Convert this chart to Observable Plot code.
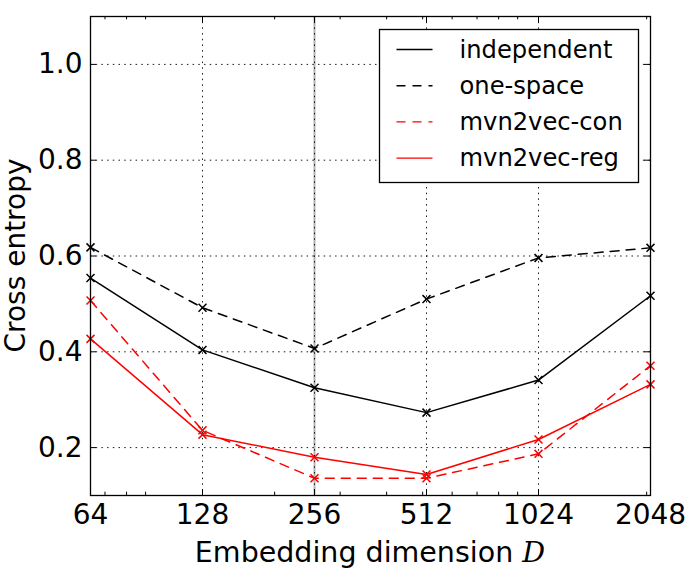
<!DOCTYPE html>
<html>
<head>
<meta charset="utf-8">
<script src="https://cdn.jsdelivr.net/npm/d3@7"></script>
<script src="https://cdn.jsdelivr.net/npm/@observablehq/plot@0.6"></script>
<style>
  body { margin: 0; background: #fff; }
  #chart { position: relative; width: 686px; height: 570px; }
</style>
</head>
<body>
<div id="chart"></div>
<script>
// ---- data ----
const dims = [64, 128, 256, 512, 1024, 2048];
const independent = [0.554, 0.404, 0.325, 0.273, 0.341, 0.517];
const oneSpace    = [0.618, 0.492, 0.407, 0.510, 0.596, 0.617];
const mvn2vecCon  = [0.507, 0.236, 0.136, 0.136, 0.187, 0.371];
const mvn2vecReg  = [0.427, 0.227, 0.180, 0.144, 0.217, 0.332];
const seriesNames = ["independent", "one-space", "mvn2vec-con", "mvn2vec-reg"];
const yTicks = [0.2, 0.4, 0.6, 0.8, 1.0];
const xGridTicks = [128, 256, 512, 1024];
const xMinorTicks = [70, 80, 90, 200, 300, 400, 500, 600, 700, 800, 900, 2000];
const highlightDim = [256];

// ---- layout ----
const W = 686, H = 570;
const mL = 90, mR = 36, mT = 16, mB = 75;
const innerW = W - mL - mR, innerH = H - mT - mB;
const MAJ = 6, MIN = 3.3;
const dash = "9,7";

const toRows = (vals) => dims.map((d, i) => ({dim: d, v: vals[i]}));
const series = [
  {name: seriesNames[0], rows: toRows(independent), color: "#000000", dash: null},
  {name: seriesNames[1], rows: toRows(oneSpace),    color: "#000000", dash: dash},
  {name: seriesNames[2], rows: toRows(mvn2vecCon),  color: "#ff0000", dash: dash},
  {name: seriesNames[3], rows: toRows(mvn2vecReg),  color: "#ff0000", dash: null}
];

const marks = [
  Plot.ruleX(highlightDim, {stroke: "#b4b4b4", strokeWidth: 2}),
  Plot.gridX({ticks: xGridTicks, stroke: "#000", strokeOpacity: 1, strokeWidth: 0.9, strokeDasharray: "1.5,4.2"}),
  Plot.gridY({ticks: yTicks, stroke: "#000", strokeOpacity: 1, strokeWidth: 0.9, strokeDasharray: "1.5,4.2"})
];
for (const s of series) {
  marks.push(Plot.line(s.rows, {x: "dim", y: "v", stroke: s.color, strokeWidth: 1.5, strokeDasharray: s.dash}));
  marks.push(Plot.dot(s.rows, {x: "dim", y: "v", symbol: "times", r: 3.7, stroke: s.color, strokeWidth: 1.5}));
}
// inward ticks
marks.push(
  Plot.tickX(dims, {x: d => d, insetTop: innerH - MAJ, stroke: "#000", strokeWidth: 1}),
  Plot.tickX(dims, {x: d => d, insetBottom: innerH - MAJ, stroke: "#000", strokeWidth: 1}),
  Plot.tickX(xMinorTicks, {x: d => d, insetTop: innerH - MIN, stroke: "#000", strokeWidth: 1}),
  Plot.tickX(xMinorTicks, {x: d => d, insetBottom: innerH - MIN, stroke: "#000", strokeWidth: 1}),
  Plot.tickY(yTicks, {y: d => d, insetRight: innerW - MAJ, stroke: "#000", strokeWidth: 1}),
  Plot.tickY(yTicks, {y: d => d, insetLeft: innerW - MAJ, stroke: "#000", strokeWidth: 1}),
  Plot.axisX({ticks: dims, tickFormat: d => String(d), tickSize: 0, tickPadding: 9, fontSize: 28, label: null}),
  Plot.axisY({ticks: yTicks, tickFormat: d3.format(".1f"), tickSize: 0, tickPadding: 8, fontSize: 28, label: null}),
  Plot.frame({stroke: "#000", strokeWidth: 1.3})
);

const plot = Plot.plot({
  width: W, height: H,
  marginLeft: mL, marginRight: mR, marginTop: mT, marginBottom: mB,
  style: {fontFamily: "DejaVu Sans", background: "#fff", color: "#000", overflow: "visible"},
  x: {type: "log", base: 2, domain: [64, 2048]},
  y: {domain: [0.1, 1.1]},
  marks
});
document.getElementById("chart").appendChild(plot);

// ---- axis labels ----
const svg = d3.select(plot);
const xl = svg.append("text")
  .attr("x", mL + innerW / 2).attr("y", 562)
  .attr("text-anchor", "middle")
  .attr("font-size", 28.5).attr("font-family", "DejaVu Sans").attr("fill", "#000");
xl.append("tspan").text("Embedding dimension ");
xl.append("tspan").attr("font-family", "DejaVu Serif").attr("font-style", "italic").text("D");

svg.append("text")
  .attr("transform", `translate(15,${mT + innerH / 2}) rotate(-90)`)
  .attr("text-anchor", "middle").attr("dominant-baseline", "central")
  .attr("font-size", 28).attr("font-family", "DejaVu Sans").attr("fill", "#000")
  .text("Cross entropy");

// ---- legend ----
const lg = svg.append("g").attr("transform", "translate(379.5,29.5)");
lg.append("rect").attr("width", 259).attr("height", 153)
  .attr("fill", "#fff").attr("stroke", "#000").attr("stroke-width", 1.3);
series.forEach((s, i) => {
  const cy = 20 + i * 36.2;
  lg.append("line").attr("x1", 17).attr("x2", 53).attr("y1", cy).attr("y2", cy)
    .attr("stroke", s.color).attr("stroke-width", 1.4)
    .attr("stroke-dasharray", s.dash || null);
  lg.append("text").attr("x", 80).attr("y", cy).attr("dominant-baseline", "central")
    .attr("text-anchor", "start")
    .attr("font-size", 24.2).attr("font-family", "DejaVu Sans").attr("fill", "#000")
    .text(s.name);
});
</script>
</body>
</html>
